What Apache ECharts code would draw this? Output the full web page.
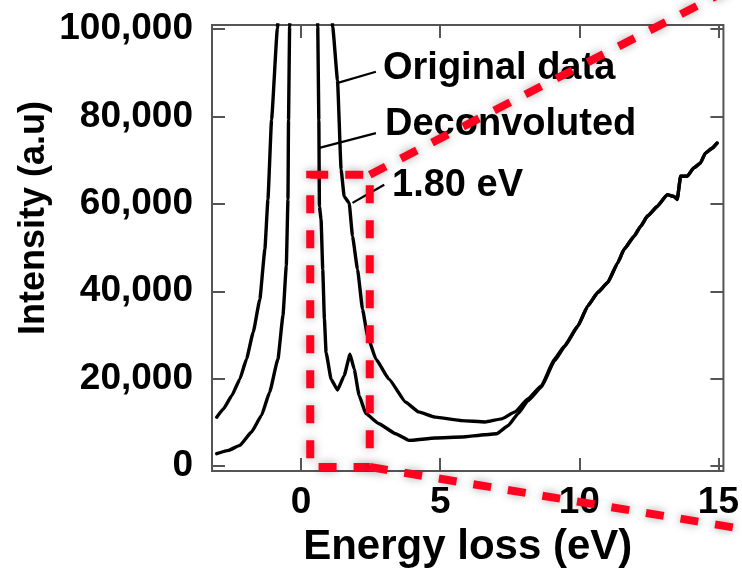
<!DOCTYPE html>
<html><head><meta charset="utf-8">
<script src="https://cdn.jsdelivr.net/npm/echarts@6/dist/echarts.min.js"></script>
<style>html,body{margin:0;padding:0;background:#fff}#c{width:742px;height:573px}</style>
</head><body><div id="c"></div>
<script>
// ---- data ----
const xTicks = [0, 5, 10, 15];
const yTicks = [0, 20000, 40000, 60000, 80000, 100000];

const originalX = [-3.03,-2.79,-2.49,-2.20,-1.96,-1.72,-1.48,-1.30,-1.19,-1.06,-0.85,0.14,1.14,1.31,1.44,1.55,1.73,1.85,2.03,2.21,2.39,2.69,3.16,3.76,4.23,4.83,5.78,6.61,7.21,7.69,8.16,8.64,9.11,9.47,9.95,10.30,10.66,11.02,11.38,11.61,11.97,12.21,12.45,12.80,13.16,13.40,13.52,13.64,13.88,14.11,14.35,14.53,14.77,14.95];
const originalY = [11200,13100,16100,19900,24500,30600,38200,49600,61000,79200,100200,500000,100400,88300,67800,61700,60200,52600,45000,35900,29800,24500,19900,14600,12400,11200,10400,10100,10800,12400,15400,18400,24500,27500,32100,36600,39700,42000,46500,49600,52600,54900,57200,59400,62100,61700,61000,66300,66300,68200,69300,71600,72700,73900];

const deconvX = [-3.03,-2.61,-2.20,-1.78,-1.42,-1.13,-0.83,-0.65,-0.53,-0.47,-0.45,-0.41,0.09,0.60,0.64,0.66,0.72,0.78,0.84,0.90,1.08,1.31,1.55,1.76,1.91,2.09,2.33,2.80,3.40,3.88,4.83,5.78,6.61,7.03,7.45,7.80,8.16,8.64,9.11,9.47,9.95,10.30,10.66,11.02,11.38,11.61,11.97,12.21,12.45,12.80,13.16,13.40,13.52,13.64,13.88,14.11,14.35,14.53,14.77,14.95];
const deconvY = [2850,3600,4740,7800,11600,16900,24500,34400,45800,61000,79200,100500,900000,100500,79200,59400,56400,45000,33600,26000,19900,17400,20700,25600,22200,16100,12000,9700,7400,5880,6430,6650,7180,7400,9300,12000,15000,18100,24100,27300,32000,36600,39700,42000,46500,49600,52600,54900,57200,59400,62100,61700,61000,66300,66300,68200,69300,71600,72700,73900];

// annotation labels and leader lines (data coords: [x1,y1,x2,y2])
const labelTexts = ['Original data', 'Deconvoluted', '1.80 eV'];
const leaderLines = [[1.26, 87560, 2.69, 90200], [0.66, 72800, 2.69, 76170], [1.85, 60210, 2.99, 64380]];
// zoom box (data coords) and the two zoom rays' far ends
const zoomBox = [0.33, -200, 2.47, 66660];
const rayEnds = [[15.73, 110190], [15.73, -14240]];

const FONT = '"Liberation Sans", Arial, Helvetica, sans-serif';
const chart = echarts.init(document.getElementById('c'), null, {renderer: 'canvas'});

function pairs(xs, ys) { return xs.map((x, i) => [x, ys[i]]); }

const tickStyle = {color: '#555', width: 2};
const option = {
  animation: false,
  backgroundColor: '#fff',
  grid: {left: 212, right: 15.5, top: 25, bottom: 100.5, show: true, borderColor: '#555', borderWidth: 2, backgroundColor: 'transparent'},
  xAxis: [{
    type: 'value', min: -3.2, max: 15.18, position: 'bottom',
    axisLine: {show: false, onZero: false}, splitLine: {show: false},
    axisTick: {show: true, inside: true, length: 13, lineStyle: tickStyle, customValues: xTicks},
    axisLabel: {customValues: xTicks, fontSize: 37, fontWeight: 'bold', color: '#000', fontFamily: FONT, margin: 13},
    name: 'Energy loss (eV)', nameLocation: 'middle', nameGap: 52,
    nameTextStyle: {fontSize: 42, fontWeight: 'bold', color: '#000', fontFamily: FONT}
  }, {
    type: 'value', min: -3.2, max: 15.18, position: 'top',
    axisLine: {show: false, onZero: false}, splitLine: {show: false},
    axisTick: {show: true, inside: true, length: 13, lineStyle: tickStyle, customValues: xTicks},
    axisLabel: {show: false, customValues: xTicks}
  }],
  yAxis: [{
    type: 'value', min: -1140, max: 100910, position: 'left',
    axisLine: {show: false, onZero: false}, splitLine: {show: false},
    axisTick: {show: true, inside: true, length: 13, lineStyle: tickStyle, customValues: yTicks},
    axisLabel: {customValues: yTicks, fontSize: 37, fontWeight: 'bold', color: '#000', fontFamily: FONT, margin: 19,
      formatter: v => v.toLocaleString('en-US')}
  }, {
    type: 'value', min: -1140, max: 100910, position: 'right',
    axisLine: {show: false, onZero: false}, splitLine: {show: false},
    axisTick: {show: true, inside: true, length: 13, lineStyle: tickStyle, customValues: yTicks},
    axisLabel: {show: false, customValues: yTicks}
  }],
  series: [{
    name: 'Original data', type: 'line', data: pairs(originalX, originalY),
    showSymbol: false, clip: true, smooth: 0.12, smoothMonotone: 'x',
    lineStyle: {color: '#000', width: 3.4, join: 'round', cap: 'round'}, z: 3,
    markLine: {silent: true, symbol: 'none', label: {show: false},
      lineStyle: {color: '#000', width: 2.2, type: 'solid'},
      data: leaderLines.map(l => [{coord: [l[0], l[1]]}, {coord: [l[2], l[3]]}])}
  }, {
    name: 'Deconvoluted', type: 'line', data: pairs(deconvX, deconvY),
    showSymbol: false, clip: true, smooth: 0.12, smoothMonotone: 'x',
    lineStyle: {color: '#000', width: 3.4, join: 'round', cap: 'round'}, z: 3
  }]
};
chart.setOption(option);

// overlay: labels + red dashed zoom box
const p = (x, y) => chart.convertToPixel({xAxisIndex: 0, yAxisIndex: 0}, [x, y]);
const a = p(zoomBox[0], zoomBox[1]), b = p(zoomBox[2], zoomBox[3]);
const r1 = p(rayEnds[0][0], rayEnds[0][1]), r2 = p(rayEnds[1][0], rayEnds[1][1]);
const red = {stroke: '#fe0320', lineWidth: 8, lineDash: [18, 17], fill: null,
  shadowBlur: 10, shadowColor: 'rgba(0,0,0,0.35)'};
const labelPos = [[383, 50], [385, 106], [392, 167]];
const graphic = [];
labelTexts.forEach((t, i) => graphic.push({type: 'text', x: labelPos[i][0], y: labelPos[i][1], z: 10,
  style: {text: t, fontSize: 38, fontWeight: 'bold', fontFamily: FONT, fill: '#000', textAlign: 'left', textVerticalAlign: 'top'}}));
graphic.push({type: 'text', x: 34, y: 218, rotation: Math.PI / 2, z: 10,
  style: {text: 'Intensity (a.u)', fontSize: 36, fontWeight: 'bold', fontFamily: FONT, fill: '#000', textAlign: 'center', textVerticalAlign: 'middle'}});
graphic.push({type: 'rect', z: 20, shape: {x: a[0], y: b[1], width: b[0] - a[0], height: a[1] - b[1]}, style: Object.assign({}, red)});
graphic.push({type: 'line', z: 20, shape: {x1: b[0], y1: b[1], x2: r1[0], y2: r1[1]}, style: Object.assign({}, red)});
graphic.push({type: 'line', z: 20, shape: {x1: b[0], y1: a[1], x2: r2[0], y2: r2[1]}, style: Object.assign({}, red)});
chart.setOption({graphic: graphic});
</script></body></html>
